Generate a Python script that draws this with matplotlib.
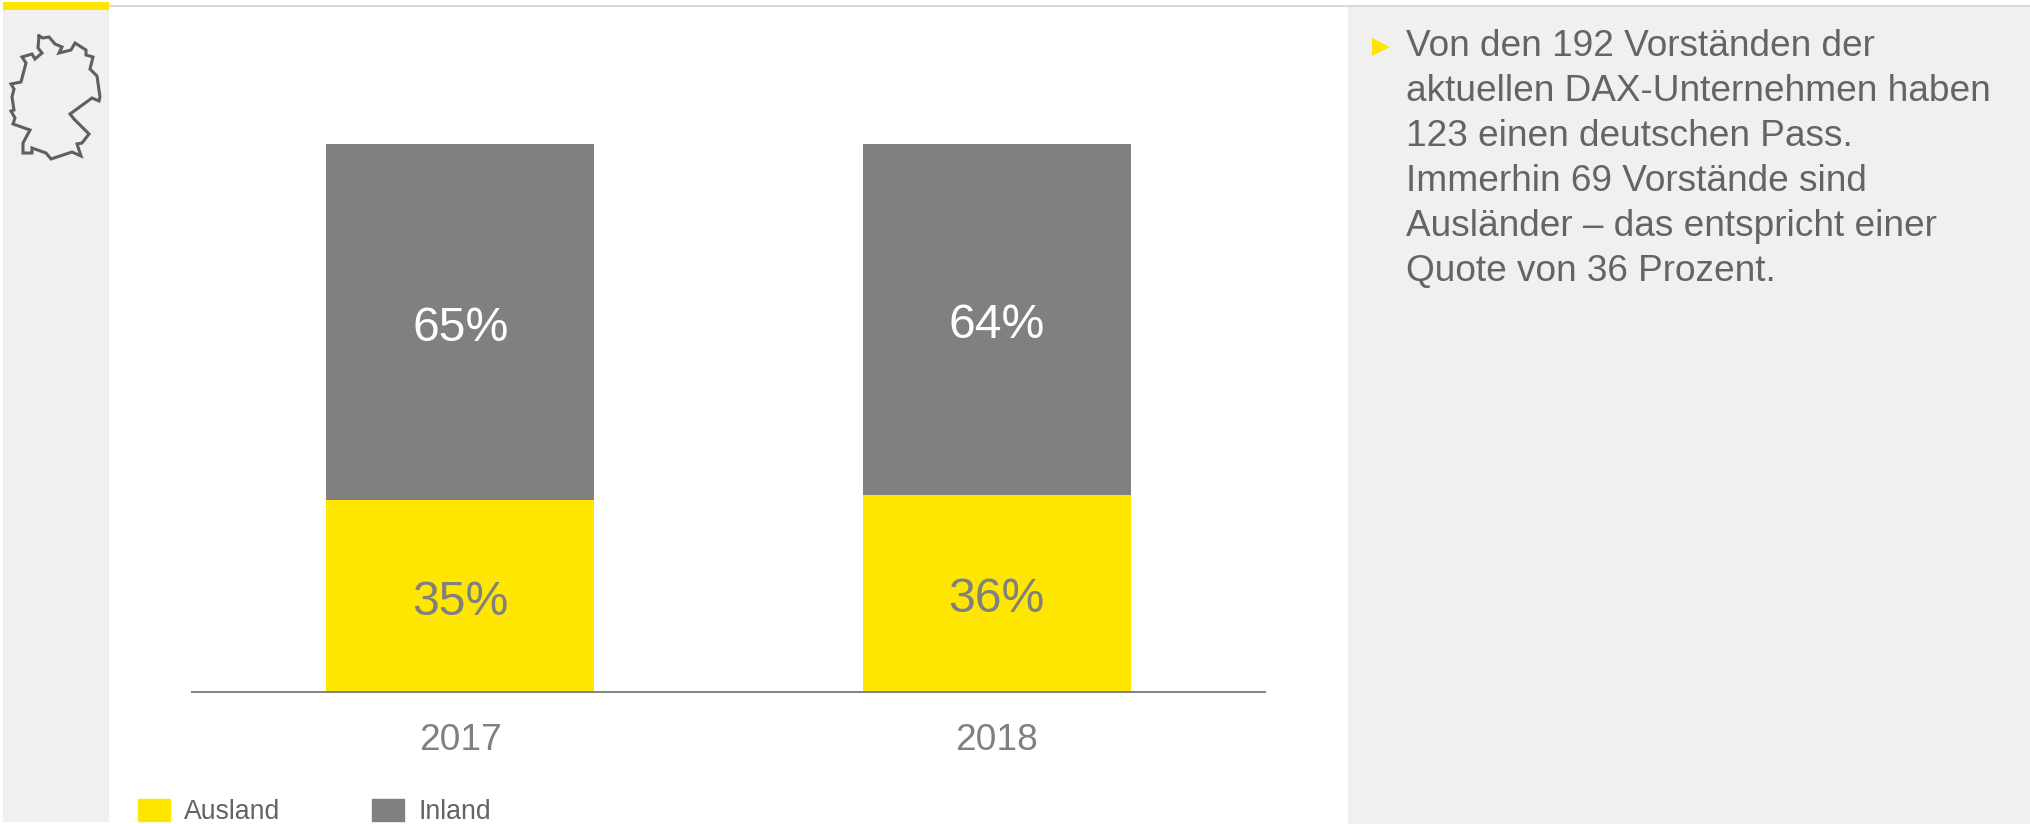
import matplotlib
matplotlib.use("Agg")
import matplotlib.pyplot as plt
from matplotlib.patches import Rectangle, Polygon, Patch
from matplotlib.lines import Line2D

W, H = 2031, 824
plt.rcParams['font.family'] = ['Liberation Sans', 'DejaVu Sans']

years = ['2017', '2018']
ausland = [35, 36]
inland = [65, 64]
series_names = ['Ausland', 'Inland']
note_lines = [
    'Von den 192 Vorständen der',
    'aktuellen DAX-Unternehmen haben',
    '123 einen deutschen Pass.',
    'Immerhin 69 Vorstände sind',
    'Ausländer – das entspricht einer',
    'Quote von 36 Prozent.',
]
# icon outline (Germany), pixel positions of the decorative icon
icon_x = [39,38,42,35,32,22,26,21,11,14,12,14,11,15,13,30,23,23,32,32,46,51,72,81,77,82,89,74,70,92,99,100,97,90,93,86,86,75,71,63,59,62,55,49,43,39]
icon_y = [36,48,53,59,54,57,63,82,84,89,97,110,111,118,124,130,143,153,153,148,153,159,152,156,144,143,134,119,114,98,101,97,76,69,57,55,50,43,50,52,53,47,44,37,38,36]

YELLOW = '#ffe600'
GREY = '#808080'
PANEL = '#f0f0f0'
TEXT = '#646464'

fig = plt.figure(figsize=(W/100, H/100), dpi=100, facecolor='white')

def fx(p): return p / W
def fy(p): return 1 - p / H

def frect(x0, y0, x1, y1, color, z=-5):
    fig.add_artist(Rectangle((fx(x0), fy(y1)), (x1-x0)/W, (y1-y0)/H, transform=fig.transFigure,
                             facecolor=color, edgecolor='none', zorder=z))

frect(3, 3, 109, 822, PANEL)
frect(1348, 7, W, H, PANEL)
frect(109, 4.5, W, 6.5, '#d9d9d9')
frect(3, 2, 109, 10, YELLOW)

fig.add_artist(Line2D([fx(v) for v in icon_x], [fy(v) for v in icon_y], transform=fig.transFigure,
                      color='#5f5f5f', lw=2.2, solid_joinstyle='miter', zorder=2))

# main chart
ax = fig.add_axes([fx(192), fy(692), (1265-192)/W, (692-144)/H], facecolor='none')
xpos = range(len(years))
ax.bar(xpos, ausland, width=0.5, color=YELLOW, label=series_names[0])
ax.bar(xpos, inland, width=0.5, bottom=ausland, color=GREY, label=series_names[1])
ax.set_xlim(-0.5, 1.5)
ax.set_ylim(0, 100)
ax.set_yticks([])
ax.set_xticks(list(xpos), years)
ax.tick_params(axis='x', length=0, pad=22, labelsize=26.7, labelcolor=GREY)
for s in ['top', 'left', 'right']:
    ax.spines[s].set_visible(False)
ax.spines['bottom'].set_color(GREY)
ax.spines['bottom'].set_linewidth(1.4)

for i in xpos:
    ax.annotate(f'{ausland[i]}%', (i, ausland[i]/2), ha='center', va='center', xytext=(0, -4.7),
                textcoords='offset points', fontsize=34.7, color=GREY)
    ax.annotate(f'{inland[i]}%', (i, ausland[i] + inland[i]/2), ha='center', va='center', xytext=(0, -4.7),
                textcoords='offset points', fontsize=34.7, color='white')

handles = [Patch(color=YELLOW, label=series_names[0]), Patch(color=GREY, label=series_names[1])]
fig.legend(handles=handles, loc='lower left', bbox_to_anchor=(fx(138), fy(825.5)), ncol=2, frameon=False,
           fontsize=19.2, labelcolor=TEXT, borderpad=0, borderaxespad=0, handlelength=1.2, handleheight=0.9,
           handletextpad=0.53, columnspacing=3.45)

# side note
fig.add_artist(Polygon([(fx(1372), fy(38)), (fx(1390), fy(47)), (fx(1372), fy(56))], closed=True,
                       transform=fig.transFigure, facecolor=YELLOW, edgecolor='none', zorder=2))
for k, line in enumerate(note_lines):
    fig.text(fx(1406), fy(56 + k*44.9), line, ha='left', va='baseline', fontsize=26.65, color=TEXT)

fig.savefig('out.png', dpi=100)
